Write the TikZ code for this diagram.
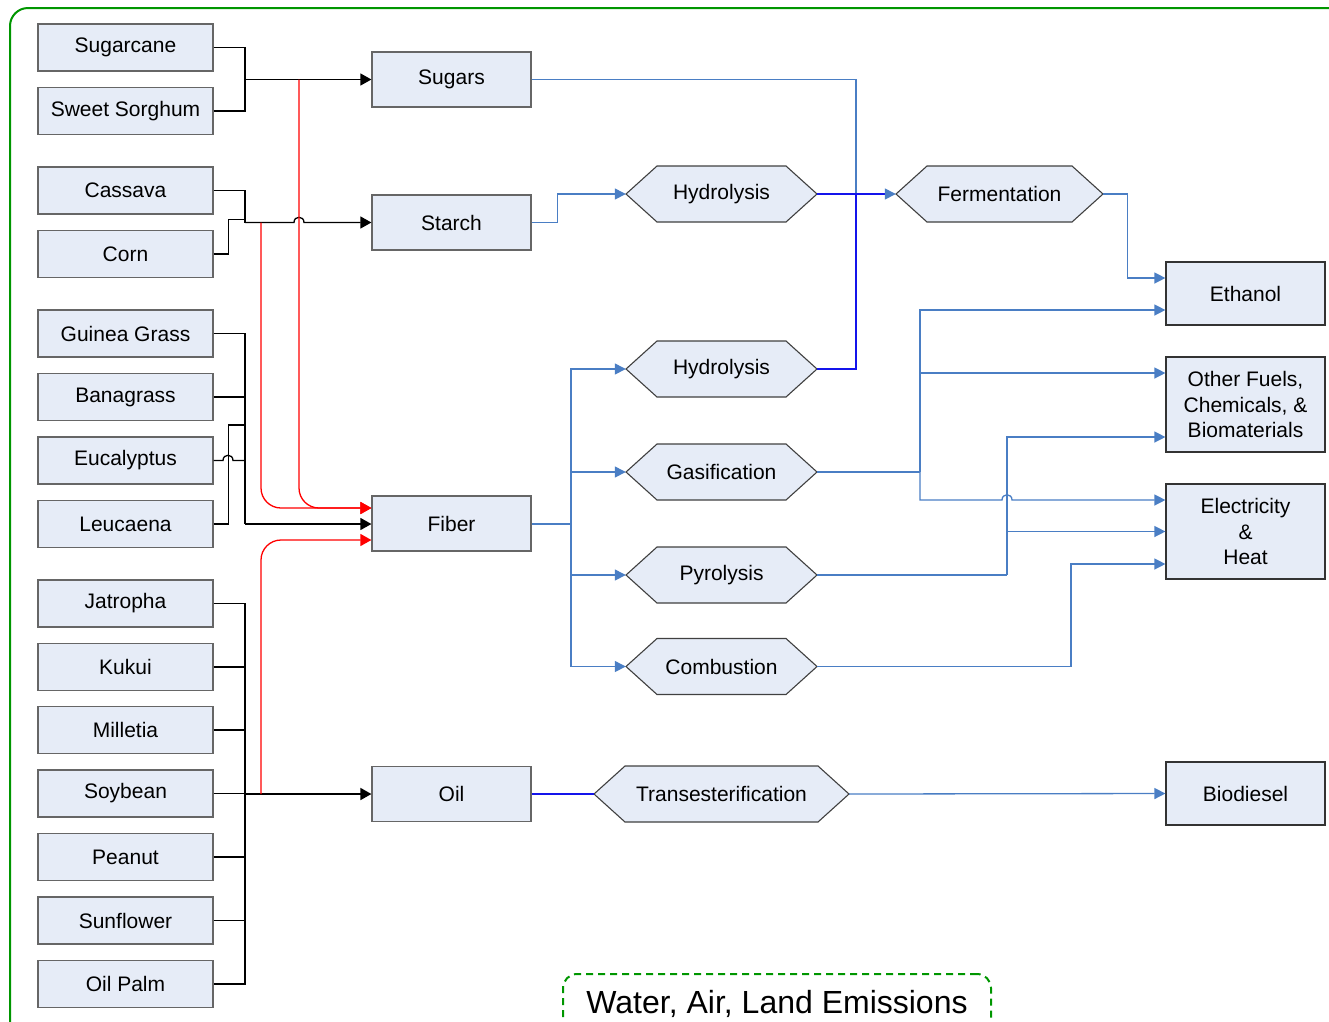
\documentclass[tikz,border=0pt]{standalone}
\usepackage{fontspec}
\setmainfont{Liberation Sans}
\usetikzlibrary{positioning}
\usetikzlibrary{calc}
\usetikzlibrary{arrows.meta}

\definecolor{boxfill}{RGB}{230,236,247}
\definecolor{flowblue}{RGB}{74,126,196}
\definecolor{darkblue}{RGB}{20,20,235}
\definecolor{framegreen}{RGB}{0,150,0}

% hexagon process step: name, x, y, half width, text
\newcommand{\hexnode}[5]{%
  \draw[hexline] (#2-#4,#3) -- (#2-#4+31,#3-28) -- (#2+#4-31,#3-28) -- (#2+#4,#3)
    -- (#2+#4-31,#3+28) -- (#2-#4+31,#3+28) -- cycle;
  \node[hextext, minimum width={2*#4pt}] (#1) at (#2,#3) {#5};}

\begin{document}
\begin{tikzpicture}[x=1pt,y=-1pt,
    every node/.style={font=\fontsize{21}{25.5}\selectfont, align=center, inner sep=0pt},
    feedbox/.style={draw=black!60, fill=boxfill, line width=1.2pt, minimum width=175pt, minimum height=47pt},
    formbox/.style={draw=black!60, fill=boxfill, line width=1.2pt, minimum width=159pt, minimum height=55pt},
    prodbox/.style={draw=black!80, fill=boxfill, line width=1.2pt, minimum width=159pt},
    hexline/.style={draw=black!75, fill=boxfill, line width=1.1pt},
    hextext/.style={minimum height=56pt},
    feedline/.style={draw=black, line width=1.3pt},
    feedarrow/.style={feedline, -{Triangle[length=11pt,width=12pt]}},
    fibarrow/.style={draw=red, line width=1.3pt, rounded corners=20pt, -{Triangle[length=11pt,width=12pt]}},
    flowline/.style={draw=flowblue, line width=1.3pt},
    flowarrow/.style={flowline, -{Triangle[length=11pt,width=11pt]}},
    darkline/.style={draw=darkblue, line width=1.3pt},
    frame/.style={draw=framegreen, line width=2pt, rounded corners=18pt},
    emitbox/.style={draw=framegreen, line width=2pt, dash pattern=on 7pt off 5pt, rounded corners=14pt,
                    minimum width=428pt, minimum height=60pt, font=\fontsize{32}{36}\selectfont}]
    \useasboundingbox (0,0) rectangle (1329,1021);
    \clip (0,0) rectangle (1329,1021);
    \draw[frame] (10,8) rectangle (1400,1100);

    % feedstocks
    \node[feedbox] (sugarcane) at (125.5,47.5) {Sugarcane};
    \node[feedbox] (sorghum) at (125.5,111) {Sweet Sorghum};
    \node[feedbox] (cassava) at (125.5,190.5) {Cassava};
    \node[feedbox] (corn) at (125.5,254) {Corn};
    \node[feedbox] (guinea) at (125.5,333.5) {Guinea Grass};
    \node[feedbox] (banagrass) at (125.5,397) {Banagrass};
    \node[feedbox] (eucalyptus) at (125.5,460.5) {Eucalyptus};
    \node[feedbox] (leucaena) at (125.5,524) {Leucaena};
    \node[feedbox] (jatropha) at (125.5,603.5) {Jatropha};
    \node[feedbox] (kukui) at (125.5,667) {Kukui};
    \node[feedbox] (milletia) at (125.5,730) {Milletia};
    \node[feedbox] (soybean) at (125.5,793.5) {Soybean};
    \node[feedbox] (peanut) at (125.5,857) {Peanut};
    \node[feedbox] (sunflower) at (125.5,920.5) {Sunflower};
    \node[feedbox] (oilpalm) at (125.5,984) {Oil Palm};

    % intermediate forms
    \node[formbox] (sugars) at (451.5,79.5) {Sugars};
    \node[formbox] (starch) at (451.5,222.5) {Starch};
    \node[formbox] (fiber) at (451.5,523.5) {Fiber};
    \node[formbox] (oil) at (451.5,794) {Oil};

    % conversion steps
    \hexnode{hyd1}{721.5}{194}{95.5}{Hydrolysis}
    \hexnode{hyd2}{721.5}{369}{95.5}{Hydrolysis}
    \hexnode{gas}{721.5}{472}{95.5}{Gasification}
    \hexnode{pyr}{721.5}{575}{95.5}{Pyrolysis}
    \hexnode{comb}{721.5}{666.5}{95.5}{Combustion}
    \hexnode{trans}{721.5}{794}{127.5}{Transesterification}
    \hexnode{ferm}{999.5}{194}{103.5}{Fermentation}

    % products
    \node[prodbox, minimum height=63pt] (ethanol) at (1245.5,293.5) {Ethanol};
    \node[prodbox, minimum height=95pt] (others) at (1245.5,404.5) {Other Fuels,\\Chemicals, \&\\Biomaterials};
    \node[prodbox, minimum height=95pt] (elec) at (1245.5,531.5) {Electricity\\\&\\Heat};
    \node[prodbox, minimum height=63pt] (biodiesel) at (1245.5,793.5) {Biodiesel};

    \node[emitbox] (emis) at (777,1004) {Water, Air, Land Emissions};

    % junctions
    \coordinate (jsug) at (245,79.5);
    \coordinate (jsta) at (245,222.5);
    \coordinate (jfib) at (245,524);
    \coordinate (joil) at (245,794);
    \coordinate (rsug) at (299,79.5);
    \coordinate (rsta) at (261,222.5);
    \coordinate (roil) at (261,794);
    \coordinate (jferm) at (856,194);
    \coordinate (jfb) at (571,523.5);
    \coordinate (jgas) at (920,472);
    \coordinate (jpyr) at (1007,575);
    \coordinate (jcomb) at (1071,666.5);

    % feedstock lines
    \draw[feedline] (sugarcane.east) -| (jsug);
    \draw[feedline] (sorghum.east) -| (jsug);
    \draw[feedarrow] (jsug) -- (jsug -| sugars.west);
    \draw[feedline] (cassava.east) -| (jsta);
    \draw[feedline] (corn.east) -- ++(15,0) |- ([yshift=3pt]jsta);
    \draw[feedarrow] (jsta) -- (294,222.5) .. controls (294,215.5) and (304,215.5) .. (304,222.5)
        -- (jsta -| starch.west);
    \draw[feedline] (guinea.east) -| (jfib);
    \draw[feedline] (banagrass.east) -- (banagrass.east -| jfib);
    \draw[feedline] (eucalyptus.east) -- (223,460.5) .. controls (223,453.5) and (233,453.5) .. (233,460.5)
        -- (eucalyptus.east -| jfib);
    \draw[feedline] (leucaena.east) -- ++(15,0) |- (245,425);
    \draw[feedarrow] (jfib) -- (jfib -| fiber.west);
    \draw[feedline] (jatropha.east) -| (oilpalm.east -| joil) -- (oilpalm.east);
    \draw[feedline] (kukui.east) -- (kukui.east -| joil);
    \draw[feedline] (milletia.east) -- (milletia.east -| joil);
    \draw[feedline] (soybean.east) -- (soybean.east -| joil);
    \draw[feedline] (peanut.east) -- (peanut.east -| joil);
    \draw[feedline] (sunflower.east) -- (sunflower.east -| joil);
    \draw[feedarrow, line width=1.7pt] (joil) -- (oil.west);

    % residues to fiber
    \draw[fibarrow] (rsug) |- ($(fiber.west)+(0,-15.5)$);
    \draw[fibarrow] (rsta) |- ($(fiber.west)+(0,-15.5)$);
    \draw[fibarrow] (roil) |- ($(fiber.west)+(0,16.5)$);

    % conversion lines
    \draw[flowline] (sugars.east) -| (jferm);
    \draw[flowarrow] (starch.east) -- ++(26,0) |- (hyd1.west);
    \draw[darkline] (hyd2.east) -| (jferm);
    \draw[darkline, -{Triangle[length=11pt,width=11pt,color=flowblue]}] (hyd1.east) -- (ferm.west);
    \draw[flowline, line width=2pt] (fiber.east) -- (jfb);
    \draw[flowarrow] (jfb) |- (hyd2.west);
    \draw[flowarrow] (jfb) |- (gas.west);
    \draw[flowarrow] (jfb) |- (pyr.west);
    \draw[flowarrow] (jfb) |- (comb.west);
    \draw[flowarrow] (ferm.east) -- ++(24,0) |- ($(ethanol.west)+(0,-15.5)$);
    \draw[flowline] (gas.east) -- (jgas);
    \draw[flowarrow] (jgas) |- ($(ethanol.west)+(0,16.5)$);
    \draw[flowarrow] (jgas) |- ($(others.west)+(0,-31.5)$);
    \draw[flowarrow] (jgas) |- (1002,500) .. controls (1002,493) and (1012,493) .. (1012,500)
        -- ($(elec.west)+(0,-31.5)$);
    \draw[flowline] (pyr.east) -- (jpyr);
    \draw[flowarrow] (jpyr) |- ($(others.west)+(0,32.5)$);
    \draw[flowarrow] (jpyr |- elec.west) -- (elec.west);
    \draw[flowline] (comb.east) -- (jcomb);
    \draw[flowarrow] (jcomb) |- ($(elec.west)+(0,32.5)$);
    \draw[darkline] (oil.east) -- (trans.west);
    \draw[flowarrow] (trans.east) -- (biodiesel.west);
\end{tikzpicture}
\end{document}
